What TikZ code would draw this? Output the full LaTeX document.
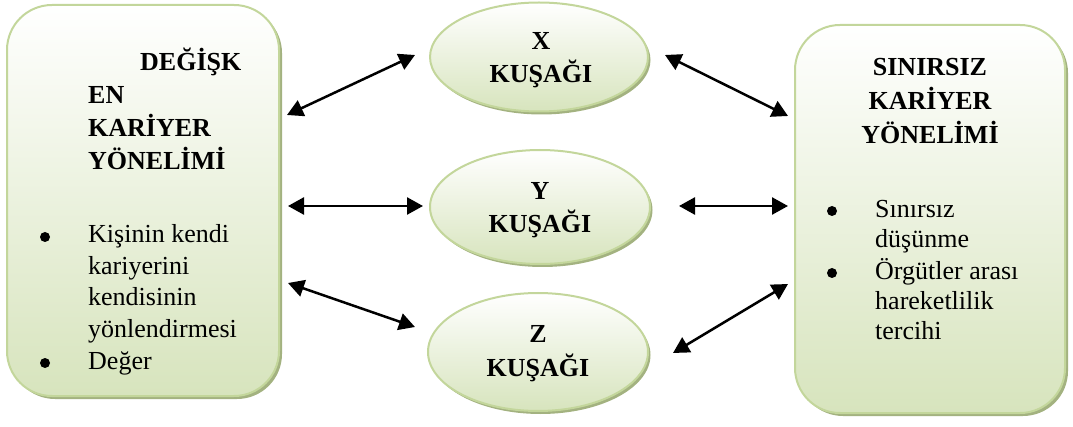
\documentclass[tikz,border=0pt]{standalone}
\usepackage{fontspec}
\setmainfont{Liberation Serif}
\usetikzlibrary{arrows.meta,shadows,shapes.geometric}
\definecolor{bordergreen}{RGB}{195,214,155}
\definecolor{fillgreen}{RGB}{215,228,189}
\definecolor{shadowgreen}{RGB}{163,178,128}
\tikzset{
  panel/.style={draw=bordergreen, line width=2pt, top color=white, bottom color=fillgreen,
    rounded corners=45pt, inner sep=0pt, outer sep=0pt,
    drop shadow={shadow xshift=3pt, shadow yshift=-3pt, fill=shadowgreen, opacity=1}},
  gen/.style={ellipse, draw=bordergreen, line width=2pt, top color=white, bottom color=fillgreen,
    inner sep=0pt, outer sep=0pt,
    drop shadow={shadow xshift=2.5pt, shadow yshift=-3pt, fill=shadowgreen, opacity=1}},
  txt/.style={anchor=base west, inner sep=0pt, font=\fontsize{26}{33}\selectfont},
  btxt/.style={anchor=base west, inner sep=0pt, font=\fontsize{26}{33}\selectfont\bfseries},
  ctxt/.style={anchor=base, inner sep=0pt, font=\fontsize{26}{33}\selectfont\bfseries},
  bul/.style={circle, fill=black, inner sep=0pt, minimum size=10pt},
  biarrow/.style={arrows={Triangle[length=16pt,width=17pt]-Triangle[length=16pt,width=17pt]}, line width=2.5pt},
}
\begin{document}
\begin{tikzpicture}[x=1pt,y=-1pt]
\useasboundingbox (0,0) rectangle (1073,427);
% panels
\node[panel, minimum width=272pt, minimum height=391pt] (L) at (143,200.5) {};
\node[panel, minimum width=270pt, minimum height=388pt] (R) at (930,219) {};
% ellipses
\node[gen, minimum width=218pt, minimum height=109pt] (X) at (539,57) {};
\node[gen, minimum width=220pt, minimum height=114pt] (Y) at (540,207) {};
\node[gen, minimum width=220pt, minimum height=118pt] (Z) at (538,352) {};
% left panel text
\node[btxt] (l1) at (140,71) {DEĞİŞK};
\node[btxt] (l2) at (88,104) {EN};
\node[btxt] (l3) at (88,137) {KARİYER};
\node[btxt] (l4) at (88,170) {YÖNELİMİ};
\node[bul] (lb1) at (45,237) {};
\node[txt] (lt1) at (88,243) {Kişinin kendi};
\node[txt] (lt2) at (88,274.5) {kariyerini};
\node[txt] (lt3) at (88,306) {kendisinin};
\node[txt] (lt4) at (88,337.5) {yönlendirmesi};
\node[bul] (lb2) at (45,363) {};
\node[txt] (lt5) at (88,369) {Değer};
% right panel text
\node[ctxt] (r1) at (930,76) {SINIRSIZ};
\node[ctxt] (r2) at (930,110) {KARİYER};
\node[ctxt] (r3) at (930,144) {YÖNELİMİ};
\node[bul] (rb1) at (832,211) {};
\node[txt] (rt1) at (875,218) {Sınırsız};
\node[txt] (rt2) at (875,248) {düşünme};
\node[bul] (rb2) at (832,273) {};
\node[txt] (rt3) at (875,280) {Örgütler arası};
\node[txt] (rt4) at (875,310) {hareketlilik};
\node[txt] (rt5) at (875,340) {tercihi};
% ellipse text
\node[ctxt] (x1) at (541,50) {X};
\node[ctxt] (x2) at (541,83) {KUŞAĞI};
\node[ctxt] (y1) at (540,200) {Y};
\node[ctxt] (y2) at (540,233) {KUŞAĞI};
\node[ctxt] (z1) at (538,343) {Z};
\node[ctxt] (z2) at (538,377) {KUŞAĞI};
% arrow endpoints
\coordinate (a1s) at (287,115); \coordinate (a1e) at (415,55);
\coordinate (a2s) at (288,206); \coordinate (a2e) at (423,206);
\coordinate (a3s) at (288,283); \coordinate (a3e) at (415,327);
\coordinate (b1s) at (665,55);  \coordinate (b1e) at (788,116);
\coordinate (b2s) at (679,206); \coordinate (b2e) at (788,206);
\coordinate (b3s) at (673,353); \coordinate (b3e) at (788,284);
\draw[biarrow] (a1s) -- (a1e);
\draw[biarrow] (a2s) -- (a2e);
\draw[biarrow] (a3s) -- (a3e);
\draw[biarrow] (b1s) -- (b1e);
\draw[biarrow] (b2s) -- (b2e);
\draw[biarrow] (b3s) -- (b3e);
\end{tikzpicture}
\end{document}
